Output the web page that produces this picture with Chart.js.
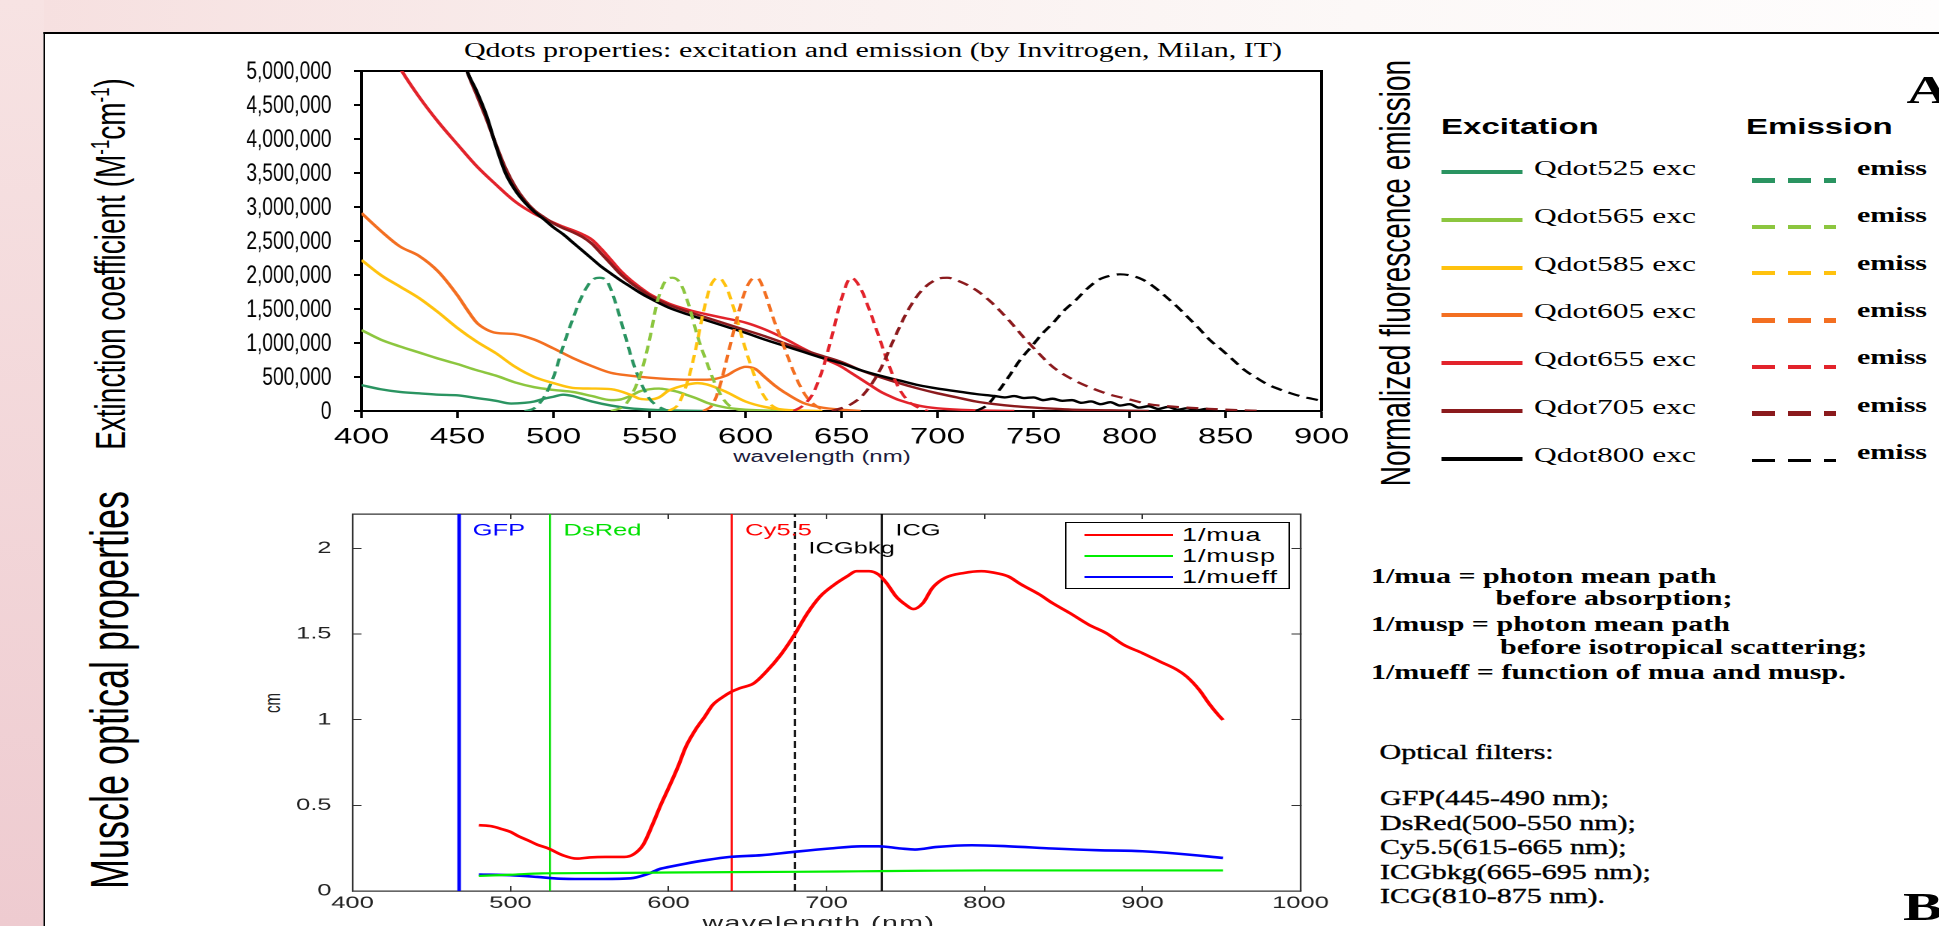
<!DOCTYPE html>
<html>
<head>
<meta charset="utf-8">
<script src="https://cdn.jsdelivr.net/npm/chart.js"></script>
<style>
  html, body { margin: 0; padding: 0; }
  body {
    width: 1939px; height: 926px; overflow: hidden; position: relative;
    background: linear-gradient(to right, #f6dfdf 0%, #f9eeed 35%, #fcf8f7 70%, #fefdfd 100%);
  }
  #leftStrip { position: absolute; left: 0; top: 0; width: 44px; height: 926px; background: linear-gradient(to bottom, #f7e3e3, #eecbd0); }
  /* the original figure is stretched sideways, so everything is laid out narrow and scaled */
  #stage { position: absolute; left: 0; top: 0; width: 1292.67px; height: 926px; transform: scaleX(1.5); transform-origin: 0 0; }
  #frame { position: absolute; left: 28.67px; top: 32px; width: 1300px; height: 900px; background: #fff; border-top: 2px solid #000; border-left: 1.4px solid #000; }
  .t { position: absolute; white-space: nowrap; line-height: 1; color: #000; }
  .sans { font-family: 'Liberation Sans', Arial, sans-serif; }
  .serif { font-family: 'Liberation Serif', 'Times New Roman', serif; }
  .mid { transform: translateY(-50%); }
  .ctr { transform: translate(-50%, -50%); }
  .rot { transform: translate(-50%, -50%) rotate(-90deg); }
  .wrap { position: absolute; }
  .sup { font-size: 0.6em; vertical-align: 0.6em; }
  .heavy { -webkit-text-stroke: 0.35px #000; }
</style>
</head>
<body>
<div id="leftStrip"></div>
<div id="stage">
  <div id="frame"></div>

  <!-- panel A -->
  <div class="t serif ctr" style="left:582px; top:50px; font-size:20px;">Qdots properties: excitation and emission (by Invitrogen, Milan, IT)</div>
  <div class="t sans rot" style="left:74px; top:263.5px; font-size:28px;">Extinction coefficient (M<span class="sup">-1</span>cm<span class="sup">-1</span>)</div>
  <div class="t sans ctr" style="left:548px; top:457px; font-size:16px; color:#1c1c3c;">wavelength (nm)</div>
  <div class="wrap" style="left:101.33px; top:61px; width:810px; height:395px;"><canvas id="chart1"></canvas></div>
  <div class="t sans rot" style="left:930.7px; top:272.5px; font-size:28px;">Normalized fluorescence emission</div>
  <div class="t sans mid" style="left:960.7px; top:127px; font-size:22px; font-weight:bold;">Excitation</div>
  <div class="t sans mid" style="left:1164px; top:127px; font-size:22px; font-weight:bold;">Emission</div>
  <div id="legendA"></div>
  <div class="t serif mid" style="left:1271px; top:90px; font-size:40px; font-weight:bold;">A</div>

  <!-- panel B -->
  <div class="t sans rot" style="left:72.9px; top:690px; font-size:36px;">Muscle optical properties</div>
  <div class="t sans rot" style="left:181.3px; top:703px; font-size:15px; color:#222;">cm</div>
  <div class="wrap" style="left:174.67px; top:504px; width:722px; height:422px;"><canvas id="chart2"></canvas></div>
  <div class="t sans ctr" style="left:546px; top:922px; font-size:19px; letter-spacing:1px; color:#222;">wavelength (nm)</div>
  <div id="legendB" style="position:absolute; left:710px; top:522px; width:148px; height:65px; border:1px solid #000; background:#fff;"></div>

  <div class="t serif mid" style="left:914px; top:576px; font-size:20px; font-weight:bold;">1/mua = photon mean path</div>
  <div class="t serif mid" style="left:997px; top:598px; font-size:20px; font-weight:bold;">before absorption;</div>
  <div class="t serif mid" style="left:914px; top:624px; font-size:20px; font-weight:bold;">1/musp = photon mean path</div>
  <div class="t serif mid" style="left:1000px; top:647px; font-size:20px; font-weight:bold;">before isotropical scattering;</div>
  <div class="t serif mid" style="left:914px; top:672px; font-size:20px; font-weight:bold;">1/mueff = function of mua and musp.</div>
  <div class="t serif mid heavy" style="left:919.7px; top:752px; font-size:20px;">Optical filters:</div>
  <div id="filterList"></div>
  <div class="t serif mid" style="left:1268.7px; top:907px; font-size:40px; font-weight:bold;">B</div>
</div>

<script>
// ---- Panel A: Qdot excitation / emission (values in M^-1 cm^-1) ----
const qdotNames = ['Qdot525', 'Qdot565', 'Qdot585', 'Qdot605', 'Qdot655', 'Qdot705', 'Qdot800']
const qdotColors = ['#2a9461', '#8cc63f', '#ffc20e', '#f36f21', '#e2232b', '#8b1a1d', '#000000']

const topXTicks = [400, 450, 500, 550, 600, 650, 700, 750, 800, 850, 900]
const topYTicks = [0, 5e5, 1e6, 1.5e6, 2e6, 2.5e6, 3e6, 3.5e6, 4e6, 4.5e6, 5e6]

const exc525Wl = [400, 410, 420, 430, 440, 450, 460, 470, 478, 485, 490, 495, 500, 505, 510, 515, 520, 530, 540, 550, 560, 580]
const exc525 = [0.38e6, 0.32e6, 0.28e6, 0.26e6, 0.24e6, 0.23e6, 0.19e6, 0.15e6, 0.11e6, 0.12e6, 0.14e6, 0.18e6, 0.21e6, 0.24e6, 0.22e6, 0.18e6, 0.14e6, 0.08e6, 0.04e6, 0.02e6, 0.01e6, 0]

const exc565Wl = [400, 410, 420, 430, 440, 450, 460, 470, 480, 490, 500, 510, 520, 530, 535, 540, 545, 550, 555, 560, 565, 570, 575, 580, 590, 600, 620]
const exc565 = [1.19e6, 1.05e6, 0.95e6, 0.86e6, 0.77e6, 0.69e6, 0.6e6, 0.52e6, 0.42e6, 0.35e6, 0.31e6, 0.28e6, 0.22e6, 0.16e6, 0.17e6, 0.22e6, 0.29e6, 0.32e6, 0.33e6, 0.31e6, 0.28e6, 0.23e6, 0.18e6, 0.12e6, 0.05e6, 0.02e6, 0]

const exc585Wl = [400, 410, 420, 430, 440, 450, 460, 470, 480, 490, 500, 510, 520, 530, 540, 545, 550, 555, 560, 570, 575, 580, 590, 600, 610, 620, 640]
const exc585 = [2.22e6, 2.0e6, 1.83e6, 1.66e6, 1.45e6, 1.22e6, 1.02e6, 0.85e6, 0.65e6, 0.5e6, 0.41e6, 0.34e6, 0.33e6, 0.32e6, 0.24e6, 0.18e6, 0.17e6, 0.2e6, 0.3e6, 0.39e6, 0.41e6, 0.39e6, 0.28e6, 0.14e6, 0.06e6, 0.02e6, 0]

const exc605Wl = [400, 410, 420, 430, 440, 450, 455, 460, 465, 470, 480, 490, 500, 510, 520, 530, 540, 550, 560, 570, 580, 590, 595, 600, 605, 610, 615, 620, 630, 640, 650, 660]
const exc605 = [2.91e6, 2.65e6, 2.42e6, 2.28e6, 2.05e6, 1.7e6, 1.49e6, 1.3e6, 1.2e6, 1.15e6, 1.13e6, 1.05e6, 0.92e6, 0.78e6, 0.66e6, 0.56e6, 0.52e6, 0.49e6, 0.47e6, 0.46e6, 0.46e6, 0.52e6, 0.6e6, 0.65e6, 0.62e6, 0.5e6, 0.38e6, 0.28e6, 0.12e6, 0.05e6, 0.02e6, 0]

const exc655Wl = [415, 421, 430, 440, 450, 460, 470, 480, 490, 500, 505, 510, 515, 520, 525, 530, 535, 540, 545, 550, 560, 570, 580, 590, 600, 610, 620, 630, 640, 650, 655, 660, 665, 670, 675, 680, 690, 700, 720, 740]
const exc655 = [5.3e6, 5.0e6, 4.62e6, 4.25e6, 3.92e6, 3.6e6, 3.33e6, 3.08e6, 2.9e6, 2.77e6, 2.71e6, 2.66e6, 2.6e6, 2.52e6, 2.38e6, 2.22e6, 2.06e6, 1.93e6, 1.82e6, 1.72e6, 1.58e6, 1.49e6, 1.42e6, 1.36e6, 1.3e6, 1.2e6, 1.07e6, 0.92e6, 0.78e6, 0.65e6, 0.56e6, 0.47e6, 0.38e6, 0.29e6, 0.22e6, 0.16e6, 0.08e6, 0.04e6, 0.01e6, 0]

const exc705Wl = [450, 455, 460, 465, 470, 475, 480, 485, 490, 495, 500, 505, 510, 515, 520, 525, 530, 535, 540, 545, 550, 560, 570, 580, 590, 600, 610, 620, 630, 640, 650, 660, 670, 680, 690, 700, 710, 720, 730, 740, 750, 770, 790, 810]
const exc705 = [5.5e6, 5.0e6, 4.65e6, 4.3e6, 3.92e6, 3.57e6, 3.3e6, 3.1e6, 2.95e6, 2.85e6, 2.76e6, 2.69e6, 2.63e6, 2.56e6, 2.46e6, 2.31e6, 2.16e6, 2.01e6, 1.89e6, 1.79e6, 1.7e6, 1.56e6, 1.46e6, 1.37e6, 1.28e6, 1.19e6, 1.1e6, 1.0e6, 0.9e6, 0.81e6, 0.72e6, 0.6e6, 0.5e6, 0.41e6, 0.33e6, 0.26e6, 0.2e6, 0.14e6, 0.1e6, 0.07e6, 0.05e6, 0.02e6, 0.01e6, 0]

const exc800Wl = [450, 455, 460, 465, 470, 475, 480, 485, 490, 495, 500, 505, 510, 515, 520, 525, 530, 535, 540, 545, 550, 560, 570, 580, 590, 600, 610, 620, 630, 640, 650, 660, 670, 680, 690, 700, 710, 720, 730, 735, 740, 745, 750, 755, 760, 765, 770, 775, 780, 785, 790, 795, 800, 805, 810, 815, 820, 825, 830, 835, 840, 845]
const exc800 = [5.5e6, 5.0e6, 4.7e6, 4.35e6, 3.9e6, 3.5e6, 3.25e6, 3.07e6, 2.93e6, 2.82e6, 2.7e6, 2.6e6, 2.48e6, 2.36e6, 2.24e6, 2.12e6, 2.02e6, 1.92e6, 1.83e6, 1.74e6, 1.66e6, 1.52e6, 1.42e6, 1.33e6, 1.24e6, 1.15e6, 1.05e6, 0.96e6, 0.87e6, 0.78e6, 0.7e6, 0.6e6, 0.52e6, 0.45e6, 0.38e6, 0.33e6, 0.29e6, 0.25e6, 0.22e6, 0.2e6, 0.22e6, 0.19e6, 0.2e6, 0.16e6, 0.18e6, 0.15e6, 0.16e6, 0.12e6, 0.14e6, 0.1e6, 0.13e6, 0.08e6, 0.1e6, 0.05e6, 0.07e6, 0.03e6, 0.06e6, 0.02e6, 0.04e6, 0.01e6, 0.03e6, 0]

// emission, normalized to ~2,000,000 on the same axis
const em525Wl = [485, 490, 495, 500, 505, 510, 515, 520, 524, 528, 532, 537, 541, 545, 550, 555, 560]
const em525 = [0, 0.04e6, 0.2e6, 0.5e6, 0.95e6, 1.35e6, 1.7e6, 1.92e6, 1.96e6, 1.9e6, 1.62e6, 1.14e6, 0.75e6, 0.45e6, 0.18e6, 0.06e6, 0]

const em565Wl = [530, 537, 541, 546, 550, 554, 558, 562, 566, 570, 575, 580, 585, 590, 595, 600]
const em565 = [0, 0.08e6, 0.25e6, 0.6e6, 1.05e6, 1.6e6, 1.9e6, 1.96e6, 1.88e6, 1.6e6, 1.1e6, 0.7e6, 0.35e6, 0.12e6, 0.03e6, 0]

const em585Wl = [560, 565, 570, 574, 578, 582, 586, 590, 594, 598, 603, 608, 613, 618, 622]
const em585 = [0, 0.1e6, 0.45e6, 0.9e6, 1.45e6, 1.85e6, 1.96e6, 1.82e6, 1.5e6, 1.1e6, 0.65e6, 0.3e6, 0.1e6, 0.02e6, 0]

const em605Wl = [578, 583, 587, 591, 595, 599, 603, 606, 610, 614, 618, 622, 627, 632, 637, 642]
const em605 = [0, 0.1e6, 0.4e6, 0.85e6, 1.3e6, 1.7e6, 1.93e6, 1.96e6, 1.75e6, 1.4e6, 1.1e6, 0.8e6, 0.45e6, 0.2e6, 0.07e6, 0]

const em655Wl = [625, 630, 635, 640, 645, 650, 655, 660, 665, 670, 675, 680, 685, 690, 695]
const em655 = [0, 0.08e6, 0.25e6, 0.6e6, 1.1e6, 1.65e6, 1.96e6, 1.8e6, 1.45e6, 1.05e6, 0.65e6, 0.33e6, 0.14e6, 0.05e6, 0]

const em705Wl = [645, 655, 662, 670, 678, 685, 692, 700, 705, 712, 720, 728, 737, 745, 752, 760, 770, 780, 790, 800, 810, 820, 830, 850, 870]
const em705 = [0, 0.1e6, 0.26e6, 0.6e6, 1.1e6, 1.5e6, 1.78e6, 1.94e6, 1.96e6, 1.9e6, 1.78e6, 1.6e6, 1.34e6, 1.08e6, 0.87e6, 0.65e6, 0.47e6, 0.34e6, 0.24e6, 0.17e6, 0.1e6, 0.07e6, 0.05e6, 0.02e6, 0]

const em800Wl = [720, 726, 732, 737, 743, 749, 755, 760, 766, 772, 778, 784, 790, 795, 801, 807, 813, 819, 825, 830, 836, 842, 848, 854, 860, 866, 872, 878, 884, 890, 895, 900]
const em800 = [0, 0.09e6, 0.3e6, 0.5e6, 0.75e6, 0.95e6, 1.15e6, 1.29e6, 1.48e6, 1.63e6, 1.8e6, 1.93e6, 1.99e6, 2.01e6, 1.99e6, 1.93e6, 1.82e6, 1.68e6, 1.53e6, 1.39e6, 1.22e6, 1.04e6, 0.9e6, 0.75e6, 0.6e6, 0.49e6, 0.39e6, 0.32e6, 0.26e6, 0.21e6, 0.18e6, 0.15e6]

const excWl = [exc525Wl, exc565Wl, exc585Wl, exc605Wl, exc655Wl, exc705Wl, exc800Wl]
const excVals = [exc525, exc565, exc585, exc605, exc655, exc705, exc800]
const emWl = [em525Wl, em565Wl, em585Wl, em605Wl, em655Wl, em705Wl, em800Wl]
const emVals = [em525, em565, em585, em605, em655, em705, em800]

// ---- Panel B: muscle optical properties (cm) ----
const muscleNames = ['1/mua', '1/musp', '1/mueff']
const muscleColors = ['#ff0000', '#00ee00', '#0000ff']

const muaWl = [480, 488, 495, 500, 505, 511, 517, 524, 533, 542, 550, 560, 572, 578, 584, 590, 595, 600, 606, 611, 617, 623, 628, 634, 640, 645, 654, 662, 671, 679, 688, 696, 705, 713, 719, 727, 733, 738, 744, 750, 755, 761, 767, 775, 787, 798, 809, 815, 823, 835, 843, 854, 866, 877, 888, 900, 911, 922, 928, 936, 942, 948, 951]
const mua = [0.384, 0.378, 0.36, 0.345, 0.32, 0.296, 0.27, 0.248, 0.209, 0.189, 0.196, 0.199, 0.199, 0.215, 0.27, 0.39, 0.5, 0.6, 0.725, 0.842, 0.94, 1.018, 1.086, 1.13, 1.164, 1.183, 1.212, 1.281, 1.378, 1.485, 1.622, 1.719, 1.788, 1.836, 1.866, 1.866, 1.846, 1.797, 1.719, 1.671, 1.645, 1.68, 1.768, 1.827, 1.856, 1.866, 1.852, 1.836, 1.79, 1.729, 1.68, 1.622, 1.554, 1.505, 1.437, 1.388, 1.339, 1.29, 1.251, 1.173, 1.095, 1.027, 0.998]

const muspWl = [480, 500, 520, 560, 600, 640, 680, 720, 760, 800, 850, 900, 951]
const musp = [0.088, 0.095, 0.103, 0.105, 0.108, 0.11, 0.112, 0.115, 0.118, 0.12, 0.12, 0.12, 0.12]

const mueffWl = [480, 500, 517, 531, 545, 559, 576, 587, 595, 600, 611, 623, 639, 659, 679, 702, 722, 733, 747, 756, 770, 792, 815, 843, 871, 900, 922, 951]
const mueff = [0.096, 0.092, 0.082, 0.072, 0.07, 0.07, 0.074, 0.1, 0.13, 0.14, 0.16, 0.179, 0.199, 0.209, 0.228, 0.248, 0.261, 0.261, 0.248, 0.242, 0.257, 0.267, 0.261, 0.248, 0.238, 0.232, 0.218, 0.193]

// filter centre lines
const filterNames = ['GFP', 'DsRed', 'Cy5.5', 'ICGbkg', 'ICG']
const filterWl = [467.5, 525, 640, 680, 735]
const filterColors = ['#0000ff', '#00e000', '#ff0000', '#000000', '#000000']
const filterRanges = ['GFP(445-490 nm);', 'DsRed(500-550 nm);', 'Cy5.5(615-665 nm);', 'ICGbkg(665-695 nm);', 'ICG(810-875 nm).']

const bottomXTicks = [400, 500, 600, 700, 800, 900, 1000]
const bottomYTicks = [0, 0.5, 1, 1.5, 2]

function pts(wl, vals) {
    return wl.map((w, i) => ({ x: w, y: vals[i] }))
}

// fixed axis box: no extra padding for edge labels
function fixBox(w, h) {
    return (s) => {
        if (w !== null) s.width = w
        if (h !== null) s.height = h
        s.paddingLeft = 0
        s.paddingRight = 0
        s.paddingTop = 0
        s.paddingBottom = 0
    }
}

Chart.defaults.font.family = "'Liberation Sans', Arial, sans-serif"
Chart.defaults.color = '#000'

// Chart A
const dsA = []
qdotNames.forEach((n, i) => {
    dsA.push({ label: n + ' exc', data: pts(excWl[i], excVals[i]), borderColor: qdotColors[i], borderWidth: 2.4 })
})
qdotNames.forEach((n, i) => {
    dsA.push({ label: n + ' emiss', data: pts(emWl[i], emVals[i]), borderColor: qdotColors[i], borderWidth: 2.2, borderDash: [8, 5] })
})
// black drawn on top
dsA.reverse()

// y labels of panel A are condensed in the original, so draw them squeezed
const narrowYLabels = {
    id: 'narrowYLabels',
    afterDraw(chart) {
        const s = chart.scales.y
        const ctx = chart.ctx
        ctx.save()
        ctx.font = "25px 'Liberation Sans', Arial, sans-serif"
        ctx.textAlign = 'right'
        ctx.textBaseline = 'middle'
        ctx.fillStyle = '#000'
        ctx.translate(s.right - 20, 0)
        ctx.scale(0.51, 1)
        s.ticks.forEach(t => {
            ctx.fillText(t.value.toLocaleString('en-US'), 0, s.getPixelForValue(t.value) + 1)
        })
        ctx.restore()
    }
}

const chart1 = new Chart(document.getElementById('chart1'), {
    type: 'line',
    data: { datasets: dsA },
    plugins: [narrowYLabels],
    options: {
        responsive: true,
        maintainAspectRatio: false,
        animation: false,
        devicePixelRatio: 2,
        events: [],
        layout: { padding: { top: 10, right: 30, left: 0, bottom: 0 } },
        plugins: { legend: { display: false }, tooltip: { enabled: false } },
        elements: { point: { radius: 0 }, line: { cubicInterpolationMode: 'monotone' } },
        scales: {
            x: {
                type: 'linear', position: 'bottom', min: 400, max: 900,
                afterBuildTicks: (s) => { s.ticks = topXTicks.map(v => ({ value: v })) },
                afterFit: fixBox(null, 45),
                ticks: { font: { size: 22 }, color: '#000', padding: 6, maxRotation: 0, callback: (v) => String(v) },
                grid: { drawOnChartArea: false, color: '#000', tickLength: 7, tickWidth: 1.8 },
                border: { color: '#000', width: 2 }
            },
            y: {
                type: 'linear', position: 'left', min: 0, max: 5e6,
                afterBuildTicks: (s) => { s.ticks = topYTicks.map(v => ({ value: v })) },
                afterFit: fixBox(140, null),
                ticks: { display: false },
                grid: { drawOnChartArea: false, color: '#000', tickLength: 5, tickWidth: 2 },
                border: { color: '#000', width: 2 }
            },
            x2: {
                type: 'linear', position: 'top', min: 400, max: 900, display: true,
                afterFit: fixBox(null, 0),
                ticks: { display: false }, grid: { display: false },
                border: { color: '#000', width: 2 }
            },
            y2: {
                type: 'linear', position: 'right', min: 0, max: 5e6, display: true,
                afterFit: fixBox(0, null),
                ticks: { display: false }, grid: { display: false },
                border: { color: '#000', width: 2 }
            }
        }
    }
})

// Legend A, built from the series arrays
const legendA = document.getElementById('legendA')
const emDashThick = [5, 4, 4, 5, 4, 5, 3]
qdotNames.forEach((n, i) => {
    const excY = 172 + i * 47.8
    const emY = 180 + i * 46.7
    const emTextY = 168 + i * 47.3
    legendA.innerHTML +=
        `<div style="position:absolute; left:961.3px; top:${excY - 2}px; width:53.3px; height:4px; background:${qdotColors[i]};"></div>` +
        `<div class="t serif mid" style="left:1022.7px; top:${excY - 4}px; font-size:21px;">${n} exc</div>` +
        `<div style="position:absolute; left:1168px; top:${emY - emDashThick[i] / 2}px; width:56px; height:${emDashThick[i]}px; background:repeating-linear-gradient(to right, ${qdotColors[i]} 0, ${qdotColors[i]} 15.3px, transparent 15.3px, transparent 24px);"></div>` +
        `<div class="t serif mid" style="left:1238px; top:${emTextY}px; font-size:20px; font-weight:bold;">emiss</div>`
})

// Chart B
const dsB = [
    { label: muscleNames[0], data: pts(muaWl, mua), borderColor: muscleColors[0], borderWidth: 2.6 },
    { label: muscleNames[1], data: pts(muspWl, musp), borderColor: muscleColors[1], borderWidth: 2.2 },
    { label: muscleNames[2], data: pts(mueffWl, mueff), borderColor: muscleColors[2], borderWidth: 2.6 }
]
filterNames.forEach((n, i) => {
    dsB.push({
        label: n,
        data: [{ x: filterWl[i], y: 0 }, { x: filterWl[i], y: 2.2 }],
        borderColor: filterColors[i],
        borderWidth: n === 'GFP' ? 2.4 : 1.3,
        borderDash: n === 'ICGbkg' ? [7, 4] : [],
        cubicInterpolationMode: 'default',
        tension: 0
    })
})

const filterLabels = {
    id: 'filterLabels',
    afterDatasetsDraw(chart) {
        const { ctx, chartArea } = chart
        const x = chart.scales.x
        ctx.save()
        ctx.font = "17px 'Liberation Sans', Arial, sans-serif"
        ctx.textAlign = 'left'
        ctx.textBaseline = 'middle'
        filterNames.forEach((n, i) => {
            ctx.fillStyle = filterColors[i]
            ctx.fillText(n, x.getPixelForValue(filterWl[i]) + 9, chartArea.top + (n === 'ICGbkg' ? 35 : 17))
        })
        ctx.restore()
    }
}

const inTicks = (len) => ({ drawOnChartArea: false, color: '#333', tickLength: len, tickWidth: 1 })

const chart2 = new Chart(document.getElementById('chart2'), {
    type: 'line',
    data: { datasets: dsB },
    plugins: [filterLabels],
    options: {
        responsive: true,
        maintainAspectRatio: false,
        animation: false,
        devicePixelRatio: 2,
        events: [],
        layout: { padding: { top: 10, right: 30, left: 0, bottom: 0 } },
        plugins: { legend: { display: false }, tooltip: { enabled: false } },
        elements: { point: { radius: 0 }, line: { cubicInterpolationMode: 'monotone' } },
        scales: {
            x: {
                type: 'linear', position: 'bottom', min: 400, max: 1000,
                afterBuildTicks: (s) => { s.ticks = bottomXTicks.map(v => ({ value: v })) },
                afterFit: fixBox(null, 35),
                ticks: { font: { size: 17 }, color: '#222', padding: 7, maxRotation: 0, callback: (v) => String(v) },
                grid: inTicks(-5),
                border: { color: '#333', width: 1.2 }
            },
            y: {
                type: 'linear', position: 'left', min: 0, max: 2.2,
                afterBuildTicks: (s) => { s.ticks = bottomYTicks.map(v => ({ value: v })) },
                afterFit: fixBox(60, null),
                ticks: { font: { size: 17 }, color: '#222', padding: 20, callback: (v) => String(v) },
                grid: inTicks(-6),
                border: { color: '#333', width: 1.2 }
            },
            x2: {
                type: 'linear', position: 'top', min: 400, max: 1000, display: true,
                afterBuildTicks: (s) => { s.ticks = bottomXTicks.map(v => ({ value: v })) },
                afterFit: fixBox(null, 0),
                ticks: { display: false },
                grid: inTicks(-5),
                border: { color: '#333', width: 1.2 }
            },
            y2: {
                type: 'linear', position: 'right', min: 0, max: 2.2, display: true,
                afterBuildTicks: (s) => { s.ticks = bottomYTicks.map(v => ({ value: v })) },
                afterFit: fixBox(0, null),
                ticks: { display: false },
                grid: inTicks(-6),
                border: { color: '#333', width: 1.2 }
            }
        }
    }
})

// Legend B
const legendB = document.getElementById('legendB')
muscleNames.forEach((n, i) => {
    const y = 12 + i * 21
    legendB.innerHTML +=
        `<div style="position:absolute; left:12px; top:${y - 1}px; width:59px; height:2px; background:${muscleColors[i]};"></div>` +
        `<div class="t sans mid" style="left:77px; top:${y}px; font-size:18px; letter-spacing:0.6px;">${n}</div>`
})

// filter list text
const filterList = document.getElementById('filterList')
filterRanges.forEach((s, i) => {
    filterList.innerHTML += `<div class="t serif mid heavy" style="left:920px; top:${798 + i * 24.5}px; font-size:20px;">${s}</div>`
})
</script>
</body>
</html>
